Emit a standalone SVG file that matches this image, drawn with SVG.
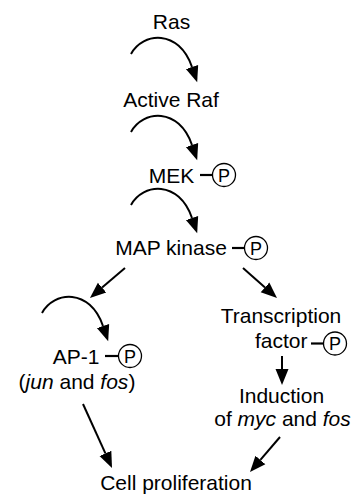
<svg xmlns="http://www.w3.org/2000/svg" width="359" height="496" viewBox="0 0 359 496">
<style>
  text { font-family: "Liberation Sans", Arial, Helvetica, sans-serif; font-size: 21px; fill: #000; }
  .c { text-anchor: middle; }
  .p { font-size: 18px; text-anchor: middle; }
  .ring { fill: #fff; stroke: #000; stroke-width: 1.3; }
  .bond { stroke: #000; stroke-width: 2.2; fill: none; }
  .link { stroke: #000; stroke-width: 2; fill: none; marker-end: url(#ah); }
</style>
<defs>
  <marker id="ah" markerUnits="userSpaceOnUse" markerWidth="18" markerHeight="16" refX="0" refY="7" orient="auto" viewBox="0 0 18 14">
    <path d="M0,0.5 L16,7 L0,13.5 z" fill="#000"/>
  </marker>
</defs>
<rect width="359" height="496" fill="#fff"/>

<g id="connectors">
  <path class="link" d="M131,54 c12,-22 48,-25 61,13"/>
  <path class="link" d="M131,132 c12,-22 48,-25 61,13"/>
  <path class="link" d="M131,205 c12,-22 48,-25 61,13"/>
  <path class="link" d="M42,313 c12,-22 48,-25 61,13"/>
  <path class="link" d="M125,268 L102.1,287.6"/>
  <path class="link" d="M243,268 L265,287.4"/>
  <path class="link" d="M282,356 L282,369"/>
  <path class="link" d="M83,404 L105.4,453.4"/>
  <path class="link" d="M280,437 L260.4,459.9"/>
</g>

<g id="ras">
  <text class="c" x="171.5" y="29">Ras</text>
</g>
<g id="active-raf">
  <text class="c" x="171" y="107">Active Raf</text>
</g>
<g id="mek">
  <text class="c" x="171.5" y="183">MEK</text>
  <line class="bond" x1="200" y1="175" x2="212.5" y2="175"/>
  <circle class="ring" cx="224" cy="175" r="11.5"/>
  <text class="p" x="224" y="181.5">P</text>
</g>
<g id="map-kinase">
  <text class="c" x="171" y="255">MAP kinase</text>
  <line class="bond" x1="232" y1="248" x2="244.5" y2="248"/>
  <circle class="ring" cx="256" cy="248" r="11.5"/>
  <text class="p" x="256" y="254.5">P</text>
</g>
<g id="ap1">
  <text class="c" x="76" y="364">AP-1</text>
  <line class="bond" x1="105" y1="356" x2="118.5" y2="356"/>
  <circle class="ring" cx="130" cy="356" r="11.5"/>
  <text class="p" x="130" y="362.5">P</text>
  <text class="c" x="77" y="389">(<tspan font-style="italic">jun</tspan> and <tspan font-style="italic">fos</tspan>)</text>
</g>
<g id="transcription-factor">
  <text class="c" x="281" y="323">Transcription</text>
  <text x="255" y="348">factor</text>
  <line class="bond" x1="311" y1="343.5" x2="323.5" y2="343.5"/>
  <circle class="ring" cx="335" cy="343.5" r="11.5"/>
  <text class="p" x="335" y="350">P</text>
</g>
<g id="induction">
  <text class="c" x="281.5" y="403">Induction</text>
  <text class="c" x="282.5" y="426">of <tspan font-style="italic">myc</tspan> and <tspan font-style="italic">fos</tspan></text>
</g>
<g id="cell-proliferation">
  <text class="c" x="176" y="490">Cell proliferation</text>
</g>
</svg>
